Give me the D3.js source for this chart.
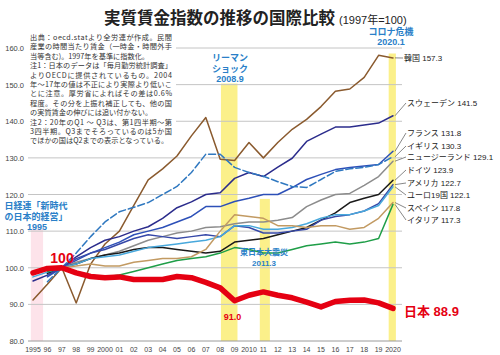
<!DOCTYPE html>
<html><head><meta charset="utf-8">
<script src="https://cdn.jsdelivr.net/npm/d3@7"></script>
<style>
html,body{margin:0;padding:0;background:#fff;}
svg{display:block;font-family:"Liberation Sans","Noto Sans CJK JP",sans-serif;}
</style></head>
<body>
<svg id="c" width="500" height="355"></svg>
<script>
const years = [1995,1996,1997,1998,1999,2000,2001,2002,2003,2004,2005,2006,2007,2008,2009,2010,2011,2012,2013,2014,2015,2016,2017,2018,2019,2020];
const xTickLabels = ["1995","96","97","98","99","2000","01","02","03","04","05","06","07","08","09","2010","11","12","13","14","15","16","17","18","19","2020"];
const yTicks = [80,90,100,110,120,130,140,150,160];

const korea   = [91.2,95.5,100,90.4,101,106.5,110,117,124,127,130.5,136,141,129.6,129.3,134.2,130,134.2,137.8,140.5,144,148.2,148.8,152,158,157.3];
const sweden  = [96.4,98,100,103,105.5,107.5,108.5,110,111.2,113.5,116.4,118,120,120.5,124.4,126,124.9,127.5,129.9,134.5,136.5,138.4,138.4,139,139.5,141.5];
const france  = [null,97.5,100,102,104,105.5,107,109,110,111,112.5,114,116.7,116.7,118.1,119,120,120,121.9,124.1,125.5,126.8,127.4,127.8,128.2,131.8];
const uk      = [null,96.2,100,104,108.5,112.5,115.3,116.5,117.8,120,122.2,126,131,131,127.4,126,125,123.5,122.2,121.9,124.1,126.3,127,127.4,128.2,130.3];
const nz      = [null,98.5,100,101.5,102.5,103.5,104.5,106,107.5,108.5,109.5,110,111,111.2,112,112.5,112.5,113,113.7,116.7,118.5,120,120.3,122.5,124.9,129.1];
const germany = [null,98.5,100,101,102.5,103.5,104,105,105.5,105.5,105,104.5,104,104.5,107,107.5,108,109,110,111,113,115,117.8,119,120,123.9];
const usa     = [null,98,100,102.5,104,105,106.5,108,109,108.5,108,108.5,109,108.5,111.5,111,109.5,109.5,110,110.5,113,114,114.5,115.5,117.5,122.7];
const euro19  = [97.5,98.8,100,101,102.5,103,103.5,104.5,105.5,106,106.5,107,107.5,108.5,111.5,111.5,110.5,110.5,111,112,113.5,114.5,114.5,115.5,117,122.1];
const spain   = [null,99.5,100,100.5,101,100.5,100.5,101.5,102,102.5,102.5,103,105,110,114.5,114,113.5,111.5,111.5,111,111.5,111.5,110.5,111,113.5,117.8];
const italy   = [null,99,100,99,98,97.5,98,99,100,101,102,102.5,103,104,105.5,105,104,104,105,106,106.5,107,106.5,107,108,117.3];
const japan   = [98.6,99.8,100,98.6,97.6,97.3,97.5,96.8,96.8,96.8,97.6,97.3,96,94.5,91.0,92.5,93.4,92.5,91.8,90.6,89.3,90.8,91.1,91.2,90.4,88.9];

const seriesNames = ["韓国","スウェーデン","フランス","イギリス","ニュージーランド","ドイツ","アメリカ","ユーロ19国","スペイン","イタリア","日本"];
const seriesValues = [korea,sweden,france,uk,nz,germany,usa,euro19,spain,italy,japan];
const seriesColors = ["#8a5a2e","#2b2c8c","#2d50b8","#2f78c0","#8c8c8c","#1a1a1a","#3648a8","#48a8dc","#c29a62","#1f9e48","#e50012"];
const seriesDash = [null,null,null,"7,3",null,null,null,null,null,null,null];
const labelY = [58,103,133,146,157,170,183,195,208,220,311];

const notes = [
 "出典：oecd.statより全労連が作成。民間",
 "産業の時間当たり賃金（一時金・時間外手",
 "当等含む)。1997年を基準に指数化。",
 "注1：日本のデータは「毎月勤労統計調査」",
 "よりOECDに提供されているもの。2004",
 "年～17年の値は不正により実際より低いこ",
 "とに注意。厚労省によればその差は0.6%",
 "程度。その分を上振れ補正しても、他の国",
 "の実質賃金の伸びには追い付かない。",
 "注2：20年のQ1 ～ Q3は、第1四半期～第",
 "3四半期。Q3までそろっているのは5か国",
 "でほかの国はQ2までの表示となっている。"
];
const notesFull = [true,true,false,true,true,true,true,true,false,true,true,false];

const bands = [
 {from:1994.85, to:1995.7, top:110.6, color:"#fde3ea"},
 {from:2008.05, to:2009.2, top:150.3, color:"#fbf08a"},
 {from:2010.75, to:2011.45, top:118.8, color:"#fbf08a"},
 {from:2019.7, to:2020.2, top:158.5, color:"#fbf08a"}
];

const svg = d3.select("#c");
const x = d3.scaleLinear().domain([1995,2020]).range([33,393]);
const y = d3.scaleLinear().domain([80,160]).range([341,48]);
const blue = "#2a7fc8";

svg.append("g").selectAll("rect").data(bands).join("rect")
  .attr("x", d=>x(d.from)).attr("width", d=>x(d.to)-x(d.from))
  .attr("y", d=>y(d.top)).attr("height", d=>y(80)-y(d.top))
  .attr("fill", d=>d.color);

svg.append("g").selectAll("line").data(yTicks.slice(1)).join("line")
  .attr("x1",28).attr("x2",402).attr("y1",d=>y(d)).attr("y2",d=>y(d))
  .attr("stroke","#c4c4c4").attr("stroke-width",1);
svg.append("line").attr("x1",28).attr("x2",402).attr("y1",y(80)).attr("y2",y(80))
  .attr("stroke","#9a9a9a").attr("stroke-width",1);

const ng = svg.append("g");
ng.append("rect").attr("x",28).attr("y",30).attr("width",148).attr("height",113).attr("fill","#fff");
ng.selectAll("text").data(notes).join("text")
  .attr("x",30).attr("y",(d,i)=>40+i*9.4)
  .attr("font-size",7.2).attr("fill","#333")
  .attr("font-family","'Noto Sans CJK JP',sans-serif")
  .each(function(d,i){ if(notesFull[i]) d3.select(this).attr("textLength",142).attr("lengthAdjust","spacing"); })
  .text(d=>d);

svg.append("g").selectAll("text").data(yTicks).join("text")
  .attr("x",24).attr("y",d=>y(d)+3).attr("text-anchor","end")
  .attr("font-size",7.5).attr("fill","#444").text(d=>d.toFixed(1));

svg.append("g").selectAll("text").data(xTickLabels).join("text")
  .attr("x",(d,i)=>x(years[i])).attr("y",352).attr("text-anchor","middle")
  .attr("font-size",7).attr("fill","#444").text(d=>d);

const line = d3.line().defined(d=>d[1]!=null).x(d=>x(d[0])).y(d=>y(d[1]));
const lg = svg.append("g");
[0,1,2,3,4,5,6,7,8,9,10].forEach(i=>{
  lg.append("path").datum(years.map((yr,j)=>[yr,seriesValues[i][j]]))
    .attr("d",line).attr("fill","none")
    .attr("stroke",seriesColors[i])
    .attr("stroke-width", i===10?5.5:1.5)
    .attr("stroke-linejoin","round").attr("stroke-linecap","round")
    .attr("stroke-dasharray",seriesDash[i]);
});

const lab = svg.append("g");
seriesNames.forEach((n,i)=>{
  const v = seriesValues[i][seriesValues[i].length-1];
  const lx = i===0?404:(i===10?404:407);
  if(i!==10){
    lab.append("line").attr("x1",x(2020)+2).attr("y1",y(v))
      .attr("x2",lx-1).attr("y2",labelY[i]).attr("stroke","#555").attr("stroke-width",0.7);
    lab.append("text").attr("x",lx).attr("y",labelY[i]+3)
      .attr("font-size",8).attr("fill","#222").text(n+" "+v.toFixed(1));
  } else {
    lab.append("text").attr("x",lx).attr("y",labelY[i]+5)
      .attr("font-size",13).attr("font-weight","bold").attr("fill","#e50012").text(n+" "+v.toFixed(1));
  }
});

svg.append("text").attr("x",62).attr("y",263).attr("text-anchor","middle")
  .attr("font-size",14).attr("font-weight","bold").attr("fill","#e50012").text("100");
svg.append("text").attr("x",x(2009)-2).attr("y",320).attr("text-anchor","middle")
  .attr("font-size",9).attr("font-weight","bold").attr("fill","#e50012").text(japan[14].toFixed(1));

function ann(lines, cx, y0, fs, dy){
  const t = svg.append("text").attr("text-anchor","middle").attr("font-size",fs).attr("fill",blue).attr("font-weight","bold");
  lines.forEach((s,k)=>t.append("tspan").attr("x",cx).attr("y",y0+k*dy).text(s));
}
ann(["日経連「新時代","の日本的経営」"],36,209,9,11);
ann(["1995"],37,230,9,11);
ann(["リーマン","ショック","2008.9"],230,61,9,10.5);
ann(["東日本大震災","2011.3"],264,255,8,10.5);
ann(["コロナ危機","2020.1"],391,35,9,10);

const tt = svg.append("text").attr("x",104).attr("y",24);
tt.append("tspan").attr("font-size",16.5).attr("font-weight","bold").attr("fill","#222")
  .attr("font-family","'Noto Sans CJK JP',sans-serif").text("実質賃金指数の推移の国際比較");
tt.append("tspan").attr("dx",4).attr("font-size",11).attr("fill","#222").text("(1997年=100)");
</script>
</body></html>
